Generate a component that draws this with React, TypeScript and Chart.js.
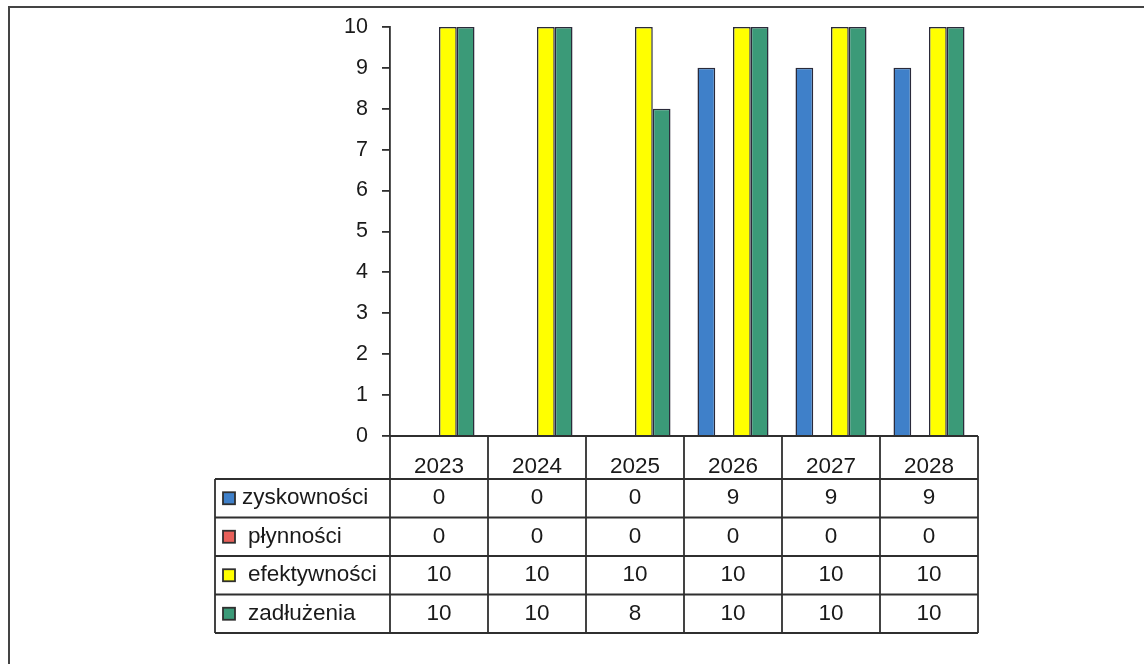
import React, { useEffect, useRef } from "react";
import { Chart, registerables } from "chart.js";

Chart.register(...registerables);

// ---- data ----
const years = ["2023", "2024", "2025", "2026", "2027", "2028"];
const seriesNames = ["zyskowności", "płynności", "efektywności", "zadłużenia"];
const zyskownosci = [0, 0, 0, 9, 9, 9];
const plynnosci = [0, 0, 0, 0, 0, 0];
const efektywnosci = [10, 10, 10, 10, 10, 10];
const zadluzenia = [10, 10, 8, 10, 10, 10];
const seriesValues = [zyskownosci, plynnosci, efektywnosci, zadluzenia];
const seriesColors = ["#3f80c9", "#e8605a", "#ffff00", "#3b9a78"];
const yMin = 0;
const yMax = 10;
const yStep = 1;

const FONT = "'Liberation Sans', Arial, sans-serif";
const TEXT = "#1a1a1a";
const LINE = "#2f2f2f";

const framePlugin = {
  id: "frame",
  beforeDraw(chart: any) {
    const { ctx, width, height } = chart;
    ctx.save();
    ctx.fillStyle = "#ffffff";
    ctx.fillRect(0, 0, width, height);
    ctx.strokeStyle = "#444444";
    ctx.lineWidth = 2;
    ctx.beginPath();
    ctx.moveTo(9, height);
    ctx.lineTo(9, 7);
    ctx.lineTo(width, 7);
    ctx.stroke();
    ctx.restore();
  },
};

const dataTablePlugin = {
  id: "dataTable",
  afterDraw(chart: any) {
    const { ctx, chartArea } = chart;
    const xs = chart.scales.x;
    const n = years.length;
    const colW = xs.getPixelForValue(1) - xs.getPixelForValue(0);
    const left = chartArea.left;
    const right = chartArea.right;
    const top = chartArea.bottom;
    const headerH = 43;
    const rowH = 38.5;
    const legendLeft = 215;
    const bottom = top + headerH + rowH * seriesNames.length;

    ctx.save();
    ctx.strokeStyle = LINE;
    ctx.lineWidth = 1.8;
    ctx.beginPath();
    ctx.moveTo(left, top);
    ctx.lineTo(right, top);
    ctx.stroke();
    for (let i = 0; i <= n; i++) {
      const x = i === n ? right : xs.getPixelForValue(i) - colW / 2;
      ctx.beginPath();
      ctx.moveTo(x, top);
      ctx.lineTo(x, bottom);
      ctx.stroke();
    }
    for (let k = 0; k <= seriesNames.length; k++) {
      const y = top + headerH + rowH * k;
      ctx.beginPath();
      ctx.moveTo(legendLeft, y);
      ctx.lineTo(right, y);
      ctx.stroke();
    }
    ctx.beginPath();
    ctx.moveTo(legendLeft, top + headerH);
    ctx.lineTo(legendLeft, bottom);
    ctx.stroke();

    ctx.fillStyle = TEXT;
    ctx.font = `22.5px ${FONT}`;
    ctx.textAlign = "center";
    ctx.textBaseline = "alphabetic";
    years.forEach((yr, i) => {
      ctx.fillText(yr, xs.getPixelForValue(i), top + 37);
    });

    seriesNames.forEach((name, k) => {
      const yMid = top + headerH + rowH * k + rowH / 2;
      const ks = 12;
      const kx = legendLeft + 8;
      ctx.fillStyle = seriesColors[k];
      ctx.fillRect(kx, yMid - ks / 2, ks, ks);
      ctx.lineWidth = 1.8;
      ctx.strokeStyle = LINE;
      ctx.strokeRect(kx, yMid - ks / 2, ks, ks);
      ctx.fillStyle = TEXT;
      ctx.textAlign = "left";
      ctx.textBaseline = "middle";
      ctx.fillText(name, k === 0 ? legendLeft + 27 : legendLeft + 33, yMid);
      ctx.textAlign = "center";
      seriesValues[k].forEach((v, i) => {
        ctx.fillText(String(v), xs.getPixelForValue(i), yMid);
      });
    });
    ctx.restore();
  },
};

export default function App() {
  const ref = useRef<HTMLCanvasElement | null>(null);

  useEffect(() => {
    if (!ref.current) return;
    Chart.defaults.font.family = FONT;
    const chart = new Chart(ref.current, {
      type: "bar",
      data: {
        labels: years,
        datasets: seriesNames.map((name, k) => ({
          label: name,
          data: seriesValues[k],
          backgroundColor: seriesColors[k],
          borderColor: "#2a2a3a",
          borderWidth: 1.5,
          borderSkipped: "bottom",
          categoryPercentage: 0.725,
          barPercentage: 1.0,
        })),
      },
      options: {
        responsive: false,
        animation: false,
        devicePixelRatio: 1,
        layout: { padding: { left: 0, right: 166, top: 25, bottom: 228 } },
        plugins: {
          legend: { display: false },
          tooltip: { enabled: false },
        },
        scales: {
          x: {
            display: false,
            offset: true,
          },
          y: {
            min: yMin,
            max: yMax,
            ticks: {
              stepSize: yStep,
              color: TEXT,
              font: { family: FONT, size: 21.5 },
              padding: 14,
            },
            grid: {
              drawOnChartArea: false,
              drawTicks: true,
              tickLength: 8,
              color: LINE,
              lineWidth: 1.8,
            },
            border: { display: true, color: LINE, width: 1.8 },
            afterFit: (s: any) => {
              s.width = 390;
            },
          },
        },
      },
      plugins: [framePlugin, dataTablePlugin],
    });
    return () => chart.destroy();
  }, []);

  return (
    <div style={{ position: "fixed", left: 0, top: 0, width: 1144, height: 664, background: "#fff" }}>
      <canvas ref={ref} width={1144} height={664} style={{ display: "block" }} />
    </div>
  );
}
